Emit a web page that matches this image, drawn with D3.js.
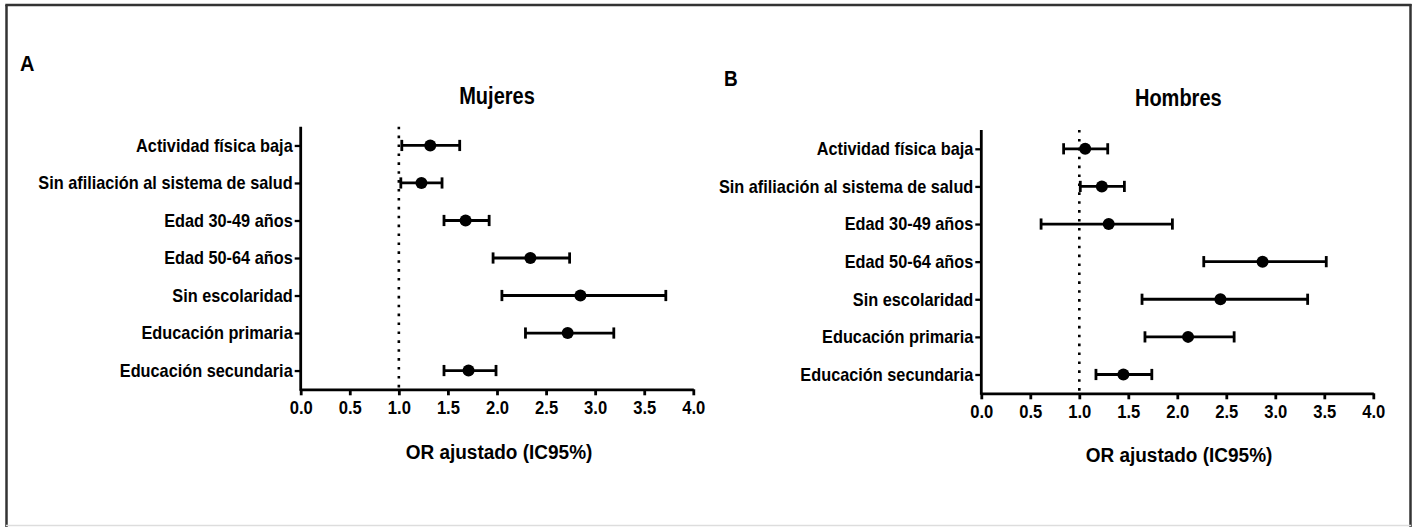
<!DOCTYPE html>
<html>
<head>
<meta charset="utf-8">
<script src="https://cdn.jsdelivr.net/npm/d3@7"></script>
<style>
  html, body { margin: 0; padding: 0; background: #fff; }
  svg { display: block; }
  text { font-family: "Liberation Sans", Arial, sans-serif; font-weight: bold; fill: #000; }
</style>
</head>
<body>
<svg id="chart" width="1416" height="527"></svg>
<script>
const categories = [
  "Actividad física baja",
  "Sin afiliación al sistema de salud",
  "Edad 30-49 años",
  "Edad 50-64 años",
  "Sin escolaridad",
  "Educación primaria",
  "Educación secundaria"
];
const mujeresOR   = [1.32, 1.23, 1.68, 2.34, 2.85, 2.72, 1.71];
const mujeresLow  = [1.03, 1.02, 1.46, 1.96, 2.05, 2.29, 1.46];
const mujeresHigh = [1.62, 1.44, 1.92, 2.74, 3.72, 3.19, 1.99];
const hombresOR   = [1.06, 1.23, 1.30, 2.87, 2.44, 2.11, 1.45];
const hombresLow  = [0.84, 1.01, 0.61, 2.27, 1.64, 1.67, 1.17];
const hombresHigh = [1.29, 1.46, 1.95, 3.52, 3.33, 2.58, 1.74];
const xTicks = [0, 0.5, 1, 1.5, 2, 2.5, 3, 3.5, 4];
const xDomain = [0, 4];
const refLine = 1;
const panelLetters = ["A", "B"];
const panelTitles = ["Mujeres", "Hombres"];
const axisTitle = "OR ajustado (IC95%)";

const svg = d3.select("#chart");

// frame
svg.append("line").attr("x1", 6.5).attr("y1", 5).attr("x2", 6.5).attr("y2", 527)
  .attr("stroke", "#333").attr("stroke-width", 2.5);
svg.append("line").attr("x1", 5.3).attr("y1", 5).attr("x2", 1411.5).attr("y2", 5)
  .attr("stroke", "#333").attr("stroke-width", 2.5);
svg.append("line").attr("x1", 1410.5).attr("y1", 4).attr("x2", 1410.5).attr("y2", 527)
  .attr("stroke", "#333").attr("stroke-width", 2.5);
svg.append("line").attr("x1", 6).attr("y1", 525.5).attr("x2", 1411).attr("y2", 525.5)
  .attr("stroke", "#ddd").attr("stroke-width", 1.5);

const panels = [
  { letter: panelLetters[0], letterX: 20, letterY: 70.5, letterSize: 20,
    title: panelTitles[0], titleX: 497, titleY: 103.5,
    x0: 300.7, x1: 693.3, yTop: 126.7, yBot: 389.3,
    axisTitleX: 499, axisTitleY: 458.5,
    or: mujeresOR, lo: mujeresLow, hi: mujeresHigh },
  { letter: panelLetters[1], letterX: 724, letterY: 86, letterSize: 19,
    title: panelTitles[1], titleX: 1178.3, titleY: 106,
    x0: 981.3, x1: 1373.3, yTop: 130, yBot: 393.3,
    axisTitleX: 1179, axisTitleY: 462,
    or: hombresOR, lo: hombresLow, hi: hombresHigh }
];

const SW = 2.8;

panels.forEach(p => {
  const x = d3.scaleLinear().domain(xDomain).range([p.x0, p.x1]);
  const y = d3.scalePoint().domain(categories).range([p.yTop, p.yBot]).padding(0.5);

  svg.append("text")
    .attr("transform", `translate(${p.letterX},${p.letterY}) scale(1,1.12)`)
    .attr("font-size", p.letterSize)
    .text(p.letter);

  svg.append("text")
    .attr("transform", `translate(${p.titleX},${p.titleY}) scale(1,1.15)`)
    .attr("text-anchor", "middle")
    .attr("font-size", 20)
    .text(p.title);

  svg.append("text")
    .attr("transform", `translate(${p.axisTitleX},${p.axisTitleY}) scale(1,1.07)`)
    .attr("text-anchor", "middle")
    .attr("font-size", 19)
    .text(axisTitle);

  // reference dotted line
  svg.append("line")
    .attr("x1", x(refLine)).attr("x2", x(refLine))
    .attr("y1", p.yTop).attr("y2", p.yBot)
    .attr("stroke", "#000").attr("stroke-width", 2.6)
    .attr("stroke-dasharray", "2.6 6.3");

  // x axis
  const gx = svg.append("g")
    .attr("transform", `translate(0,${p.yBot})`)
    .call(d3.axisBottom(x).tickValues(xTicks).tickFormat(d3.format(".1f"))
      .tickSize(6).tickSizeOuter(0).tickPadding(5));
  gx.select(".domain").attr("stroke", "#000").attr("stroke-width", SW);
  gx.selectAll(".tick line").attr("stroke", "#000").attr("stroke-width", SW);
  gx.selectAll(".tick text")
    .attr("font-size", 16.6)
    .attr("transform", "scale(1,1.08)")
    .attr("font-family", "Liberation Sans, Arial, sans-serif")
    .attr("font-weight", "bold").attr("fill", "#000");

  // y axis
  const gy = svg.append("g")
    .attr("transform", `translate(${p.x0},0)`)
    .call(d3.axisLeft(y).tickSize(6).tickSizeOuter(0).tickPadding(2));
  gy.select(".domain").attr("stroke", "#000").attr("stroke-width", SW)
    .attr("d", `M0,${p.yTop}V${p.yBot + 1.4}`);
  gy.selectAll(".tick line").attr("stroke", "#000").attr("stroke-width", 2.3);
  gy.selectAll(".tick text")
    .attr("font-size", 16.3)
    .attr("transform", "scale(1,1.1)")
    .attr("font-family", "Liberation Sans, Arial, sans-serif")
    .attr("font-weight", "bold").attr("fill", "#000");

  const rows = categories.map((c, i) => ({ c, or: p.or[i], lo: p.lo[i], hi: p.hi[i] }));
  const g = svg.append("g");
  g.selectAll(".ci").data(rows).join("line")
    .attr("x1", d => x(d.lo)).attr("x2", d => x(d.hi))
    .attr("y1", d => y(d.c)).attr("y2", d => y(d.c))
    .attr("stroke", "#000").attr("stroke-width", SW);
  g.selectAll(".capL").data(rows).join("line")
    .attr("x1", d => x(d.lo)).attr("x2", d => x(d.lo))
    .attr("y1", d => y(d.c) - 5.6).attr("y2", d => y(d.c) + 5.6)
    .attr("stroke", "#000").attr("stroke-width", SW);
  g.selectAll(".capH").data(rows).join("line")
    .attr("x1", d => x(d.hi)).attr("x2", d => x(d.hi))
    .attr("y1", d => y(d.c) - 5.6).attr("y2", d => y(d.c) + 5.6)
    .attr("stroke", "#000").attr("stroke-width", SW);
  g.selectAll("circle").data(rows).join("circle")
    .attr("cx", d => x(d.or)).attr("cy", d => y(d.c)).attr("r", 6)
    .attr("fill", "#000");
});
</script>
</body>
</html>
